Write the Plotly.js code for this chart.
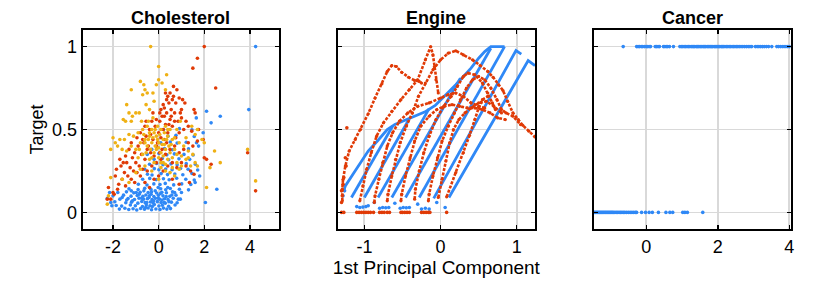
<!DOCTYPE html>
<html><head><meta charset="utf-8">
<script src="https://cdn.plot.ly/plotly-3.0.1.min.js"></script>
<style>html,body{margin:0;padding:0;background:#fff;}#chart{width:830px;height:292px;}</style>
</head><body><div id="chart"></div>
<script>
// ---------- Data ----------
const panelTitles = ['Cholesterol', 'Engine', 'Cancer'];
const yTickVals = [0, 0.5, 1];
const yTickText = ['0', '0.5', '1'];
const x1Ticks = [-2, 0, 2, 4];
const x2Ticks = [-1, 0, 1];
const x3Ticks = [0, 2, 4];

// Cholesterol: [1st PC, target]
const cholBlue = [
[-1.72,0.02],[-1.48,0.025],[-1.31,0.018],[-1.12,0.022],[-0.96,0.015],[-0.79,0.024],[-0.62,0.019],[-0.46,0.027],[-0.31,0.016],[-0.12,0.021],[0.06,0.018],[0.21,0.026],[0.36,0.02],[0.52,0.023],
[-1.86,0.042],[-1.62,0.038],[-1.24,0.045],[-1.02,0.04],[-0.71,0.036],[-0.54,0.044],[-0.38,0.04],[-0.19,0.047],[0.01,0.039],[0.16,0.043],[0.44,0.037],[0.72,0.045],
[-2.1,0.06],[-1.92,0.064],[-1.44,0.058],[-1.19,0.062],[-0.91,0.056],[-0.74,0.066],[-0.59,0.059],[-0.36,0.063],[-0.24,0.057],[-0.06,0.065],[0.11,0.06],[0.29,0.056],[0.56,0.062],[0.81,0.058],
[-2.25,0.085],[-1.7,0.08],[-1.34,0.084],[-1.06,0.078],[-0.86,0.086],[-0.66,0.08],[-0.49,0.083],[-0.29,0.077],[-0.14,0.085],[0.04,0.08],[0.26,0.082],[0.41,0.078],[0.64,0.085],[0.86,0.08],
[-2.0,0.1],[-1.54,0.104],[-1.21,0.098],[-0.94,0.102],[-0.69,0.097],[-0.56,0.105],[-0.41,0.1],[-0.21,0.096],[-0.01,0.103],[0.19,0.1],[0.49,0.097],[0.76,0.104],
[-1.79,0.12],[-1.41,0.124],[-1.09,0.118],[-0.81,0.122],[-0.46,0.12],[-0.31,0.125],[-0.09,0.117],[0.14,0.122],[0.34,0.119],[0.61,0.124],[1.0,0.12],
[-1.3,0.142],[-0.9,0.138],[-0.61,0.145],[-0.34,0.14],[0.09,0.143],[0.31,0.137],[0.51,0.144],[0.91,0.14],[1.31,0.136],
[-1.6,0.09],[-1.15,0.07],[-0.85,0.11],[-0.65,0.13],[-0.52,0.06],[-0.42,0.09],[-0.33,0.11],[-0.22,0.07],[-0.15,0.13],[-0.02,0.085],[0.09,0.115],[0.24,0.06],[0.33,0.095],[0.45,0.065],
[0.58,0.105],[-0.75,0.085],[-0.98,0.12],[-1.4,0.075],[-0.28,0.035],[0.15,0.075],[-0.57,0.03],[-0.02,0.15],[0.4,0.15],[-2.15,0.12],[-2.05,0.04],[0.95,0.08],[0.7,0.12],[-1.2,0.13],
[-0.89,0.17],[-0.51,0.165],[-0.21,0.172],[0.06,0.168],[0.29,0.175],[0.66,0.166],[1.01,0.172],[1.41,0.168],
[-0.7,0.2],[-0.39,0.205],[-0.11,0.198],[0.21,0.203],[0.46,0.197],[0.79,0.206],[1.19,0.2],[1.56,0.195],
[-0.49,0.23],[-0.29,0.226],[0.11,0.234],[0.39,0.228],[0.71,0.232],[1.06,0.227],[1.46,0.235],
[-0.61,0.26],[-0.19,0.264],[0.01,0.257],[0.31,0.262],[0.59,0.258],[0.96,0.265],[1.29,0.26],[1.71,0.256],
[-0.4,0.29],[-0.09,0.295],[0.19,0.288],[0.54,0.293],[0.81,0.287],[1.21,0.294],[1.61,0.29],
[-0.2,0.32],[0.16,0.325],[0.44,0.318],[0.89,0.323],[1.36,0.32],
[-0.5,0.35],[0.01,0.355],[0.36,0.347],[0.69,0.353],[1.11,0.35],[1.51,0.346],
[-0.3,0.38],[0.26,0.385],[0.61,0.378],[1.31,0.383],
[0.09,0.42],[0.51,0.425],[0.81,0.418],[1.21,0.423],[1.66,0.42],
[0.41,0.46],[0.76,0.465],[1.56,0.458],
[0.21,0.5],[0.91,0.505],[1.46,0.498],
[4.25,1.0],[3.95,0.62],[2.1,0.61],[2.7,0.58],[2.3,0.54],[1.95,0.48],[2.05,0.06],[2.55,0.14],[1.65,0.57],[1.75,0.4],[1.6,0.18],[1.8,0.22]
];
const cholRed = [
[-2.2,0.15],[-2.0,0.12],[-1.95,0.11],[-2.1,0.08],[-1.75,0.17],[-1.6,0.2],[-1.85,0.26],[-1.5,0.24],[-1.35,0.22],[-1.2,0.2],[-1.9,0.22],[-1.65,0.28],[-1.4,0.3],[-1.25,0.27],[-1.1,0.25],[-0.95,0.24],
[-1.7,0.32],[-1.45,0.34],[-1.15,0.33],[-1.0,0.3],[-0.85,0.28],[-0.7,0.26],[-1.3,0.38],[-1.05,0.36],[-0.9,0.4],[-0.75,0.35],[-0.6,0.32],[-1.2,0.42],[-0.95,0.45],[-0.65,0.42],[-0.5,0.38],[-0.35,0.36],
[-0.8,0.48],[-0.55,0.46],[-0.4,0.5],[-0.25,0.44],[-0.1,0.4],[-0.6,0.52],[-0.3,0.55],[0.0,0.48],[-0.15,0.52],[0.1,0.45],[0.2,0.5],[0.05,0.55],[0.3,0.53],[0.4,0.48],[0.15,0.58],[0.35,0.6],
[0.5,0.56],[0.6,0.52],[0.25,0.63],[0.45,0.66],[0.55,0.62],[0.7,0.6],[0.4,0.7],[0.6,0.68],[0.75,0.66],[0.5,0.72],[0.8,0.74],[0.65,0.7],[0.9,0.69],[1.0,0.62],[1.15,0.66],[1.2,0.55],
[1.0,0.57],[0.85,0.55],[0.9,0.48],[1.1,0.5],[1.3,0.52],[1.45,0.49],[1.6,0.6],[1.55,0.62],[1.75,0.5],[1.7,0.43],[1.5,0.4],[1.3,0.42],[1.1,0.38],[0.9,0.36],[0.7,0.4],[0.5,0.38],
[0.3,0.35],[0.1,0.32],[-0.1,0.3],[-0.3,0.28],[-0.5,0.25],[0.2,0.25],[0.4,0.28],[0.6,0.3],[0.8,0.27],[1.0,0.3],[1.2,0.28],[1.4,0.25],[1.55,0.23],[-0.2,0.2],[0.0,0.22],[0.6,0.2],
[0.9,0.17],[1.35,0.18],[-0.4,0.15],[0.15,0.38],[-0.05,0.42],[0.75,0.45],[0.35,0.42],[-0.45,0.4],[-0.2,0.34],[0.25,0.44],[-0.7,0.44],[-1.55,0.3],[-0.35,0.47],[0.05,0.36],
[-0.55,0.55],[-0.25,0.6],[0.05,0.6],[0.25,0.58],[0.55,0.58],[0.7,0.55],[0.95,0.6],[1.05,0.68],[0.35,0.68],[0.2,0.65],[-0.1,0.56],[0.45,0.53],[-1.8,0.14],[-1.45,0.16],[-1.05,0.18],[-0.8,0.22],
[-0.6,0.18],[0.3,0.72],[0.65,0.76],[0.1,0.62],
[2.0,1.0],[1.7,0.93],[1.5,0.87],[2.5,0.75],[3.9,0.36],[4.25,0.13],[2.0,0.33],[2.1,0.32],[2.3,0.29],[1.95,0.44],[-2.25,0.08]
];
const cholYellow = [
[-0.35,1.0],[0.0,0.88],[0.35,0.83],[0.0,0.8],[-0.8,0.79],[-0.1,0.77],[0.15,0.78],[-0.65,0.77],[-0.6,0.74],[-1.2,0.74],[-0.5,0.72],[-0.7,0.71],[-0.25,0.72],[0.3,0.74],[-1.4,0.65],[-0.55,0.65],
[-0.4,0.62],[-1.0,0.6],[-1.15,0.58],[-0.85,0.6],[-0.2,0.67],[-1.3,0.6],[-1.55,0.56],[-1.45,0.55],[-1.2,0.55],[-0.75,0.55],[-0.25,0.57],
[-2.0,0.45],[-2.1,0.38],[-1.9,0.42],[-1.8,0.4],[-1.7,0.44],[-1.5,0.44],[-1.3,0.47],[-1.1,0.46],[-0.9,0.48],[-0.7,0.5],[-0.5,0.52],[-0.3,0.5],[-0.1,0.46],[0.1,0.5],
[-1.6,0.38],[-1.4,0.37],[-1.2,0.4],[-1.0,0.38],[-0.8,0.42],[-0.6,0.44],[-0.4,0.46],[-0.2,0.48],[0.0,0.42],[0.2,0.44],[0.4,0.46],[0.6,0.44],[0.8,0.5],[0.3,0.52],[0.5,0.5],
[-0.5,0.4],[-0.3,0.42],[-0.1,0.38],[0.1,0.36],[0.3,0.38],[0.5,0.36],[0.7,0.38],[0.9,0.42],[1.1,0.4],[1.3,0.37],[1.5,0.35],[-0.7,0.35],[-0.9,0.33],[-0.4,0.32],[-0.2,0.3],[0.0,0.33],
[0.2,0.3],[0.4,0.32],[0.6,0.33],[0.8,0.3],[1.0,0.34],[1.2,0.32],[1.6,0.3],[1.7,0.28],[-0.6,0.28],[-0.8,0.26],[-1.0,0.24],[-0.3,0.25],[0.1,0.27],[0.3,0.25],[0.5,0.24],[0.7,0.22],
[0.9,0.26],[-1.6,0.2],[-1.3,0.18],[-2.1,0.21],[-2.25,0.05],[-2.2,0.1],[0.0,0.2],[1.4,0.28],[1.6,0.47],[1.45,0.52],[1.2,0.45],[0.95,0.55],[-0.45,0.55],[-0.15,0.4],[0.25,0.41],[-0.05,0.52],
[-0.6,0.42],[-0.45,0.44],[-0.35,0.38],[-0.25,0.45],[-0.15,0.5],[-0.05,0.44],[0.05,0.47],[0.15,0.41],[0.25,0.48],[0.35,0.44],[0.45,0.4],[-0.55,0.36],[-0.4,0.48],[-0.2,0.36],[0.0,0.39],[0.2,0.34],
[0.4,0.5],[0.55,0.41],[-0.3,0.33],[0.1,0.3],[0.7,0.45],[-0.65,0.47],[-0.85,0.38],[0.3,0.29],[0.6,0.27],[0.8,0.35],[1.0,0.28],[1.3,0.33],
[3.9,0.38],[4.25,0.19],[2.45,0.37],[2.7,0.3],[2.25,0.27],[2.1,0.15],[1.9,0.44],[2.0,0.42],[1.7,0.5]
];

// Engine: blue trajectories [1st PC, target]
const engBlueEnvelope = [[-1.27,0.13],[-1.25,0.16],[-1.15,0.23],[-1.05,0.3],[-0.95,0.37],[-0.82,0.435],[-0.7,0.5],[-0.6,0.53],[-0.47,0.556],[-0.35,0.58],[-0.21,0.605],[-0.07,0.645],[0.1,0.72],[0.2,0.77],[0.3,0.82],[0.4,0.87],[0.5,0.93],[0.58,0.97],[0.66,1.0],[0.84,1.0]];
const engBlueP1 = [[-1.17,0.09],[-0.63,0.52]];
const engBlueP2 = [[-1.0,0.09],[-0.41,0.565]];
const engBlueP3 = [[-0.82,0.09],[-0.15,0.626]];
const engBlueP4 = [[-0.64,0.09],[0.26,0.81]];
const engBlueP5 = [[-0.46,0.09],[0.66,0.99]];
const engBlueP6 = [[-0.28,0.09],[0.84,1.0]];
const engBlueP7 = [[-0.09,0.085],[0.99,0.976],[1.06,0.955]];
const engBlueP8 = [[0.11,0.09],[1.15,0.916],[1.24,0.885]];
const engBlueLow = [[-1.1,0.035],[-1.06,0.03],[-1.02,0.032],[-0.98,0.035],[-0.95,0.04],[-0.8,0.025],[-0.76,0.03],[-0.72,0.028],[-0.68,0.03],[-0.53,0.025],[-0.49,0.03],[-0.45,0.028],[-0.41,0.03],[-0.25,0.02],[-0.2,0.025],[-0.15,0.02],[-1.28,0.1],[-1.26,0.13],[-0.87,0.06],[-0.6,0.055],[-0.3,0.05],[0.06,0.03],[-0.05,0.06]];

// Engine: red trajectories
const engRedC1 = [[-1.29,0.07],[-1.29,0.14],[-1.28,0.2],[-1.25,0.28],[-1.2,0.37],[-1.12,0.44],[-1.05,0.5],[-0.95,0.595],[-0.86,0.69],[-0.77,0.776],[-0.7,0.85],[-0.64,0.886],[-0.58,0.88],[-0.51,0.845],[-0.42,0.815],[-0.34,0.796],[-0.28,0.79],[-0.25,0.78]];
const engRedC2 = [[-1.06,0.07],[-1.02,0.16],[-0.97,0.26],[-0.91,0.36],[-0.84,0.46],[-0.75,0.54],[-0.64,0.61],[-0.52,0.68],[-0.41,0.74],[-0.3,0.8],[-0.2,0.92],[-0.13,1.0],[-0.1,0.95],[-0.08,0.88],[-0.06,0.8],[-0.03,0.72]];
const engRedC3 = [[-0.87,0.06],[-0.86,0.1],[-0.81,0.2],[-0.76,0.3],[-0.7,0.4],[-0.63,0.48],[-0.54,0.55],[-0.43,0.6],[-0.3,0.64],[-0.15,0.66],[0.0,0.69],[0.1,0.71],[0.2,0.72],[0.3,0.7],[0.4,0.66],[0.5,0.64],[0.58,0.63]];
const engRedC4 = [[-0.7,0.07],[-0.69,0.11],[-0.64,0.22],[-0.59,0.32],[-0.53,0.42],[-0.45,0.52],[-0.37,0.6],[-0.29,0.7],[-0.2,0.78],[-0.1,0.86],[0.0,0.92],[0.1,0.96],[0.2,0.975],[0.3,0.95],[0.42,0.92],[0.52,0.886],[0.62,0.85],[0.69,0.815],[0.76,0.77],[0.82,0.735],[0.88,0.67],[0.95,0.6],[1.02,0.56],[1.08,0.525],[1.16,0.49],[1.24,0.455]];
const engRedC5 = [[-0.52,0.07],[-0.51,0.11],[-0.46,0.22],[-0.4,0.33],[-0.34,0.43],[-0.26,0.52],[-0.15,0.58],[-0.05,0.62],[0.05,0.64],[0.15,0.65],[0.25,0.64],[0.35,0.63],[0.45,0.63],[0.55,0.62],[0.65,0.6],[0.75,0.57],[0.85,0.56]];
const engRedC6 = [[-0.34,0.08],[-0.33,0.14],[-0.28,0.25],[-0.22,0.36],[-0.15,0.46],[-0.06,0.56],[0.04,0.64],[0.14,0.7],[0.22,0.76],[0.3,0.82],[0.36,0.84],[0.45,0.83],[0.55,0.78],[0.62,0.72],[0.68,0.66],[0.72,0.62]];
const engRedC7 = [[-0.16,0.07],[-0.15,0.11],[-0.1,0.22],[-0.04,0.33],[0.02,0.43],[0.1,0.52],[0.18,0.6],[0.26,0.68],[0.34,0.75],[0.42,0.8],[0.5,0.82],[0.58,0.8],[0.66,0.75],[0.74,0.68],[0.8,0.62],[0.86,0.6],[0.95,0.58],[1.05,0.53]];
const engRedC8 = [[-0.03,0.09],[0.02,0.2],[0.07,0.31],[0.12,0.42],[0.17,0.5],[0.24,0.56],[0.32,0.6],[0.4,0.63],[0.5,0.66],[0.6,0.67],[0.7,0.64],[0.8,0.6]];
const engRedC9 = [[0.08,0.094],[0.2,0.24],[0.3,0.36],[0.38,0.465],[0.45,0.56],[0.5,0.63],[0.55,0.68],[0.62,0.7]];
const engRedLow = [[-1.3,0],[-1.27,0],[-1.1,0],[-1.07,0],[-1.04,0],[-1.01,0],[-0.98,0],[-0.95,0],[-0.92,0],[-0.88,0],[-0.8,0],[-0.77,0],[-0.74,0],[-0.7,0],[-0.67,0],[-0.52,0],[-0.5,0],[-0.47,0],[-0.44,0],[-0.41,0],[-0.25,0],[-0.22,0],[-0.19,0],[-0.16,0],[-0.14,0],[0.08,0],[-1.3,0.06],[-1.29,0.1],[-1.3,0.13],[-1.28,0.17],[-1.27,0.21],[-1.24,0.28],[-1.25,0.33],[-1.23,0.51]];

// Cancer: 1st PC of samples with target 1 and target 0
const cancerPosX = [-0.645,-0.27,-0.23,-0.19,-0.14,-0.1,-0.05,0.0,0.04,0.08,0.12,0.25,0.29,0.33,0.37,0.48,0.52,0.56,0.6,0.65,0.76,0.94,0.98,1.02,1.06,1.1,1.14,1.18,1.22,1.26,1.3,1.33,1.36,1.4,1.43,1.46,1.5,1.53,1.56,1.6,1.63,1.66,1.7,1.73,1.76,1.8,1.83,1.86,1.9,1.93,1.96,2.0,2.03,2.06,2.1,2.13,2.16,2.2,2.24,2.28,2.32,2.36,2.4,2.44,2.48,2.52,2.56,2.6,2.65,2.7,2.75,2.8,2.85,2.9,2.95,3.05,3.1,3.15,3.2,3.25,3.3,3.36,3.42,3.51,3.65,3.7,3.76,3.82,3.88,3.94,4.0];
const cancerNegX = [-1.49,-1.46,-1.43,-1.4,-1.37,-1.34,-1.31,-1.28,-1.25,-1.22,-1.19,-1.16,-1.13,-1.1,-1.07,-1.04,-1.01,-0.98,-0.95,-0.92,-0.88,-0.84,-0.8,-0.76,-0.72,-0.68,-0.64,-0.6,-0.55,-0.5,-0.45,-0.4,-0.35,-0.3,-0.27,-0.13,-0.02,0.08,0.17,0.34,0.55,0.66,0.74,1.02,1.08,1.15,1.58];
const cancerPosTarget = 1, cancerNegTarget = 0;

// ---------- Styles ----------
const BLUE = '#2f88f6', RED = '#e03a06', YELLOW = '#efb115';
const FONT = 'Liberation Sans, Arial, sans-serif';

function pts(arr, color, xa, ya, size) {
  return {x: arr.map(p => p[0]), y: arr.map(p => p[1]), type: 'scatter', mode: 'markers',
    xaxis: xa, yaxis: ya, marker: {color: color, size: size || 3.6, line: {width: 0}},
    hoverinfo: 'skip', showlegend: false};
}
function curves(list, color, width, msize, dash) {
  const x = [], y = [];
  list.forEach(c => { c.forEach(p => { x.push(p[0]); y.push(p[1]); }); x.push(null); y.push(null); });
  return {x: x, y: y, type: 'scatter', mode: msize ? 'lines+markers' : 'lines', xaxis: 'x2', yaxis: 'y2',
    line: {color: color, width: width, dash: dash || 'solid'}, marker: {color: color, size: msize || 0},
    hoverinfo: 'skip', showlegend: false, connectgaps: false};
}

const data = [
  pts(cholBlue, BLUE, 'x', 'y'),
  pts(cholRed, RED, 'x', 'y'),
  pts(cholYellow, YELLOW, 'x', 'y'),
  curves([engBlueEnvelope, engBlueP1, engBlueP2, engBlueP3, engBlueP4, engBlueP5, engBlueP6, engBlueP7, engBlueP8], BLUE, 2.8),
  pts(engBlueLow, BLUE, 'x2', 'y2'),
  curves([engRedC1, engRedC2, engRedC3, engRedC4, engRedC5, engRedC6, engRedC7, engRedC8, engRedC9], RED, 2.6, 3.2, '3px,1.5px'),
  pts(engRedLow, RED, 'x2', 'y2'),
  pts(cancerPosX.map(x => [x, cancerPosTarget]), BLUE, 'x3', 'y3'),
  pts(cancerNegX.map(x => [x, cancerNegTarget]), BLUE, 'x3', 'y3')
];

const axBase = {
  showline: true, mirror: 'ticks', linecolor: '#000', linewidth: 2,
  ticks: 'inside', ticklen: 4, tickwidth: 1.5, tickcolor: '#000',
  showgrid: true, gridcolor: '#d9d9d9', gridwidth: 1.8, zeroline: false,
  tickfont: {family: FONT, size: 18, color: '#000'}, fixedrange: true
};
function xax(domain, range, ticks, anchor) {
  return Object.assign({}, axBase, {domain: domain, range: range, tickmode: 'array', tickvals: ticks,
    ticktext: ticks.map(String), anchor: anchor});
}
function yax(anchor, labels) {
  return Object.assign({}, axBase, {domain: [0, 1], range: [-0.1, 1.1], tickmode: 'array', tickvals: yTickVals,
    ticktext: yTickText, showticklabels: labels, anchor: anchor});
}

const layout = {
  width: 830, height: 292, margin: {l: 0, r: 0, t: 30, b: 63},
  paper_bgcolor: '#fff', plot_bgcolor: '#fff',
  font: {family: FONT, color: '#000'},
  xaxis: xax([0.0996, 0.336], [-3.33, 5.27], x1Ticks, 'y'),
  xaxis2: Object.assign(xax([0.4069, 0.6446], [-1.35, 1.24], x2Ticks, 'y2'),
    {title: {text: '1st Principal Component', font: {family: FONT, size: 19, color: '#000'}, standoff: 4}}),
  xaxis3: xax([0.7153, 0.9527], [-1.47, 4.04], x3Ticks, 'y3'),
  yaxis: Object.assign(yax('x', true), {title: {text: 'Target', font: {family: FONT, size: 18, color: '#000'}, standoff: 4}}),
  yaxis2: yax('x2', false),
  yaxis3: yax('x3', false),
  annotations: panelTitles.map((t, i) => ({
    text: '<b>' + t + '</b>', xref: (i === 0 ? 'x' : 'x' + (i + 1)) + ' domain', yref: 'paper',
    x: 0.5, y: 1, xanchor: 'center', yanchor: 'bottom', yshift: 0, showarrow: false,
    font: {family: FONT, size: 18, color: '#000'}
  }))
};

Plotly.newPlot('chart', data, layout, {staticPlot: true, displayModeBar: false});
</script>
</body></html>
